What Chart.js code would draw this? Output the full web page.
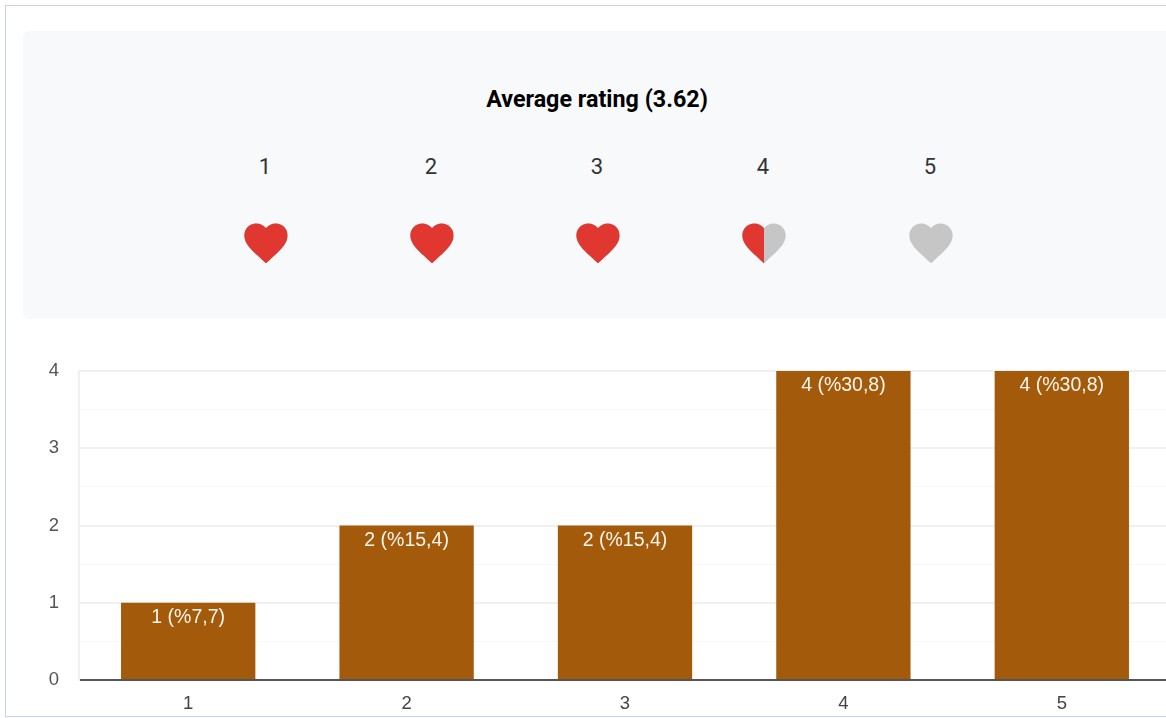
<!DOCTYPE html>
<html>
<head>
<meta charset="utf-8">
<title>Average rating</title>
<script src="https://cdn.jsdelivr.net/npm/chart.js@4"></script>
<style>
    html, body { margin: 0; padding: 0; width: 1166px; height: 718px; overflow: hidden; background: #fff; }
    #frame { position: absolute; left: 5px; top: 5px; width: 1300px; height: 710px; border: 1px solid #c9d2ea; box-sizing: content-box; }
    #panel { position: absolute; left: 23px; top: 31px; width: 1300px; height: 288px; background: #f8f9fb; border-radius: 6px; }
    #title { position: absolute; left: 397px; top: 85px; width: 400px; text-align: center; font: 700 23.3px Roboto, sans-serif; color: #000; line-height: 28px; }
    .num { position: absolute; top: 152.5px; width: 60px; text-align: center; font: 400 22px Roboto, sans-serif; color: #333; line-height: 28px; }
    .heart { position: absolute; top: 217px; width: 52px; height: 52px; }
    #chartWrap { position: absolute; left: 0; top: 340px; width: 1171px; height: 378px; }
    #ratingChart { display: block; }
</style>
</head>
<body>
<div id="frame"></div>
<div id="panel"></div>
<div id="title"></div>
<div id="ratings"></div>
<div id="chartWrap"><canvas id="ratingChart" width="1171" height="378"></canvas></div>

<script>
// Chart data
const categories = ["1", "2", "3", "4", "5"];
const counts = [1, 2, 2, 4, 4];
const percents = ["7,7", "15,4", "15,4", "30,8", "30,8"];
const yTicks = [0, 1, 2, 3, 4];

// Rating header data
const averageRating = "3.62";
const ratingLabels = ["1", "2", "3", "4", "5"];
const heartFill = [1, 1, 1, 0.5, 0];
const ratingCenters = [265, 431, 597, 763, 930];

const HEART_RED = "#e03730";
const HEART_GREY = "#c6c6c6";
const HEART_PATH = "M12 21.35l-1.45-1.32C5.4 15.36 2 12.28 2 8.5 2 5.42 4.42 3 7.5 3c1.74 0 3.41.81 4.5 2.09C13.09 3.81 14.76 3 16.5 3 19.58 3 22 5.42 22 8.5c0 3.78-3.4 6.86-8.55 11.54L12 21.35z";

// Header above the chart
document.getElementById("title").textContent = "Average rating (" + averageRating + ")";

const ratings = document.getElementById("ratings");
ratingLabels.forEach((label, i) => {
    const num = document.createElement("div");
    num.className = "num";
    num.style.left = (ratingCenters[i] - 30) + "px";
    num.textContent = label;
    ratings.appendChild(num);

    const clipWidth = 2 + 20 * heartFill[i];
    const heart = document.createElement("div");
    heart.className = "heart";
    heart.style.left = (ratingCenters[i] - 25.5) + "px";
    heart.innerHTML = `
<svg width="52" height="52" viewBox="0 0 24 24">
    <clipPath id="clip${i}"><rect x="0" y="0" width="${clipWidth}" height="24"></rect></clipPath>
    <path d="${HEART_PATH}" fill="${HEART_GREY}"></path>
    <path d="${HEART_PATH}" fill="${HEART_RED}" clip-path="url(#clip${i})"></path>
</svg>`;
    ratings.appendChild(heart);
});

// Writes "count (%percent)" just inside the top of each bar
const barLabels = {
    id: "barLabels",
    afterDatasetsDraw(chart) {
        const ctx = chart.ctx;
        ctx.save();
        ctx.font = "19.5px 'Liberation Sans', Arial, sans-serif";
        ctx.fillStyle = "#fdf6ee";
        ctx.textAlign = "center";
        ctx.textBaseline = "middle";
        chart.getDatasetMeta(0).data.forEach((bar, i) => {
            ctx.fillText(counts[i] + " (%" + percents[i] + ")", bar.x, bar.y + 15);
        });
        ctx.restore();
    }
};

new Chart(document.getElementById("ratingChart"), {
    type: "bar",
    data: {
        labels: categories,
        datasets: [{
            data: counts,
            backgroundColor: "#a35a0a",
            barPercentage: 0.615,
            categoryPercentage: 1
        }]
    },
    options: {
        responsive: false,
        animation: false,
        layout: { padding: { top: 31, left: 0, right: 0, bottom: 0 } },
        plugins: {
            legend: { display: false },
            tooltip: { enabled: false }
        },
        scales: {
            x: {
                grid: { display: false },
                border: { color: "#555555", width: 2 },
                ticks: {
                    color: "#444444",
                    font: { family: "'Liberation Sans', Arial, sans-serif", size: 18.5 },
                    padding: 5
                },
                afterFit(axis) { axis.height = 38; }
            },
            y: {
                min: 0,
                max: yTicks[yTicks.length - 1],
                grid: {
                    drawTicks: false,
                    color: ctx => Number.isInteger(ctx.tick.value) ? "#f0f0f0" : "#f7f7f7",
                    lineWidth: ctx => Number.isInteger(ctx.tick.value) ? 2 : 1
                },
                border: { color: "#f0f0f0", width: 2 },
                ticks: {
                    stepSize: 0.5,
                    autoSkip: false,
                    color: "#555555",
                    font: { family: "'Liberation Sans', Arial, sans-serif", size: 18.5 },
                    padding: 20,
                    callback: value => yTicks.includes(value) ? String(value) : ""
                },
                afterFit(axis) { axis.width = 79; }
            }
        }
    },
    plugins: [barLabels]
});
</script>
</body>
</html>
